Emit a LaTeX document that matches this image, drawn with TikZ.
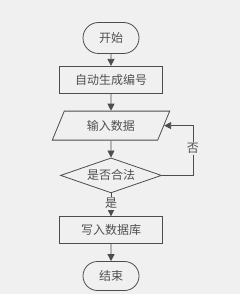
\documentclass[tikz,border=0pt]{standalone}
\usepackage{fontspec}
\newfontfamily\cjk{Noto Sans CJK SC}
\usetikzlibrary{arrows.meta,positioning,shapes.geometric,shapes.misc}
\definecolor{bgc}{HTML}{F0F0F0}
\definecolor{linec}{HTML}{4D4D4D}
\definecolor{txtc}{HTML}{505050}

\begin{document}
\begin{tikzpicture}[x=1pt,y=1pt,>={Triangle[length=7pt,width=7pt]}, every node/.style={font=\cjk\fontsize{12}{14}\selectfont,text=txtc}]
\tikzstyle{box}=[draw=linec,fill=bgc,line width=0.8pt,align=center,minimum width=103pt,minimum height=27pt,inner sep=0pt]
\tikzstyle{term}=[box,rounded rectangle,minimum width=56pt,minimum height=31pt]
\tikzstyle{io}=[box,trapezium,trapezium left angle=61,trapezium right angle=119,trapezium stretches=true,minimum width=118pt,minimum height=29pt]
\tikzstyle{cond}=[box,diamond,shape aspect=2.9,minimum width=101pt,minimum height=35pt]
\tikzstyle{lbl}=[fill=bgc,inner sep=1pt]
\tikzstyle{conn}=[->,draw=linec,line width=0.8pt]
\fill[bgc] (0,0) rectangle (240,-294);
\useasboundingbox (0,0) rectangle (240,-294);
\node[term] (start) at (111,-38) {开始};
\node[box,below=12pt of start] (gen) {自动生成编号};
\node[io,below=17pt of gen] (inp) {输入数据};
\node[cond,below=17pt of inp] (chk) {是否合法};
\node[box,below=23pt of chk] (wr) {写入数据库};
\node[term,minimum height=29pt,below=17pt of wr] (stop) {结束};
\coordinate[right=31pt of chk.east] (turn);
\draw[conn] (start) -- (gen);
\draw[conn] (gen) -- (inp);
\draw[conn] (inp) -- (chk);
\draw[conn] (chk) -- (wr) node[lbl,pos=0.45] {是};
\draw[conn] (chk.east) -- (turn) |- (inp.east) node[lbl,pos=0.27] {否};
\draw[conn] (wr) -- (stop);
\end{tikzpicture}
\end{document}
